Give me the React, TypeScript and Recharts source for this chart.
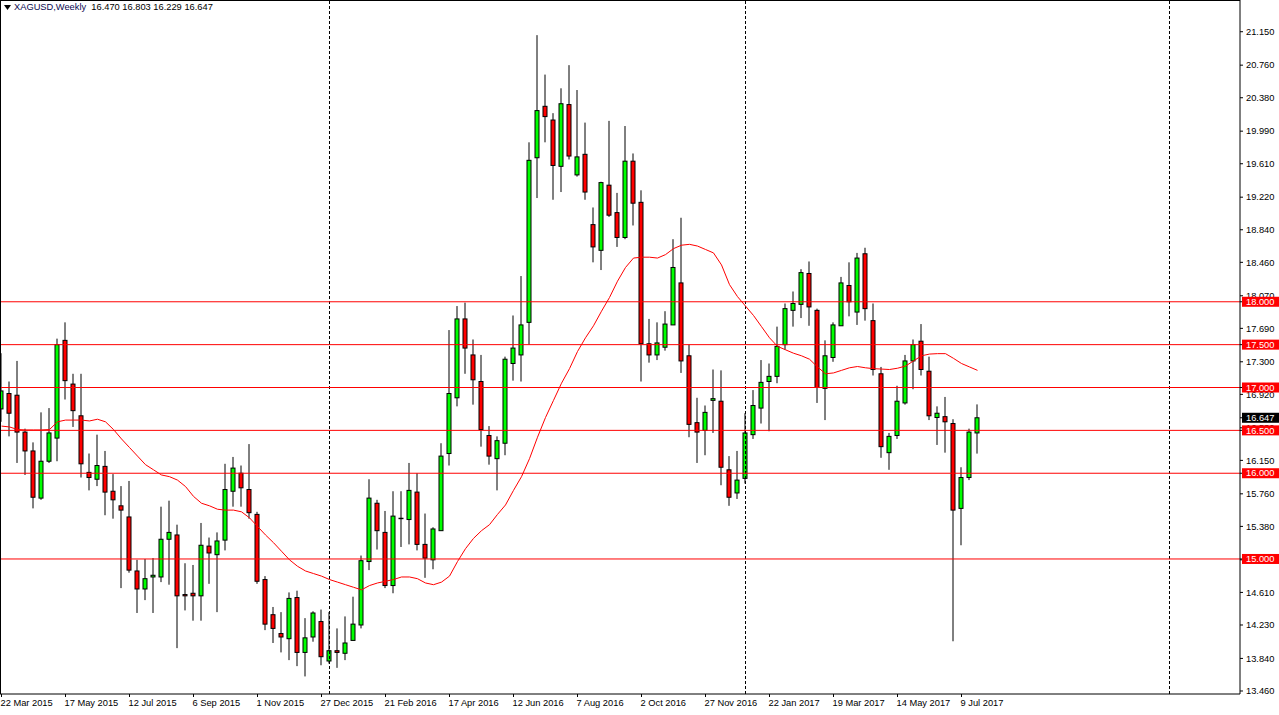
import React from 'react';
import { ComposedChart, Bar, Line, XAxis, YAxis, ReferenceLine } from 'recharts';

// weekly XAGUSD candles, first bar = week of 22 Mar 2015
const opens = [16.75, 16.93, 16.91, 16.48, 16.26, 15.71, 16.14, 16.41, 17.55, 17.04, 16.67, 16.01, 15.93, 16.08, 15.79, 15.62, 15.49, 14.86, 14.65, 14.79, 14.79, 15.23,
  15.28, 14.585, 14.6, 14.57, 15.15, 15.05, 15.22, 15.79, 16.0, 15.81, 15.52, 14.76, 14.35, 14.13, 14.07, 14.55, 13.91, 14.09, 14.27, 13.81,
  13.93, 13.9, 14.05, 14.23, 14.97, 15.65, 15.31, 14.69, 15.47, 15.46, 15.78, 15.17, 14.99, 15.33, 16.23, 16.88, 17.8, 17.38, 17.07, 16.44, 16.17, 16.35,
  17.28, 17.38, 17.76, 19.68, 20.28, 20.12, 19.58, 20.3, 19.48, 19.72, 18.9, 18.6, 19.36, 19.04, 18.75, 19.64, 19.16, 17.51, 17.38, 17.47,
  17.73, 18.22, 17.37, 16.59, 16.5, 16.85, 16.84, 16.04, 15.77, 15.94, 16.45, 16.76, 17.07, 17.13, 17.5, 17.9, 17.97, 18.33, 17.9,
  16.99, 17.35, 17.72, 18.19, 17.88, 18.56, 17.78, 17.16, 16.24, 16.44, 16.82, 17.31, 17.54, 17.19, 16.65, 16.66, 16.58, 15.59, 15.95, 16.47];
const highs = [17.4, 17.07, 17.31, 16.52, 16.36, 16.71, 16.76, 17.57, 17.76, 17.16, 17.16, 16.23, 16.45, 16.26, 15.99, 15.85, 15.91, 14.99, 15.0, 15.01, 15.61, 15.68,
  15.4, 14.95, 14.93, 15.42, 15.25, 15.31, 16.11, 16.19, 16.09, 16.34, 15.55, 14.8, 14.44, 14.38, 14.61, 14.63, 14.31, 14.39, 14.41, 14.38,
  14.19, 14.33, 14.56, 15.04, 15.93, 15.69, 15.56, 15.79, 15.79, 16.12, 16.0, 15.53, 15.37, 16.35, 17.67, 17.95, 17.99, 17.56, 17.38, 16.55, 16.43, 17.36,
  17.84, 18.3, 19.86, 21.11, 20.65, 20.2, 20.49, 20.76, 20.47, 20.09, 19.1, 19.4, 20.11, 19.27, 20.05, 19.73, 19.3, 17.8, 17.76, 17.89,
  18.73, 18.98, 17.5, 16.88, 16.79, 17.21, 17.2, 16.2, 16.26, 16.7, 16.97, 17.32, 17.28, 17.71, 17.98, 18.12, 18.38, 18.47, 17.92,
  17.55, 17.76, 18.29, 18.46, 18.57, 18.63, 17.98, 17.24, 16.47, 17.02, 17.38, 17.56, 17.74, 17.36, 16.78, 16.89, 16.63, 16.07, 16.52, 16.803];
const lows = [16.6, 16.43, 16.12, 15.98, 15.59, 15.69, 16.12, 16.14, 16.86, 16.54, 15.95, 15.8, 15.85, 15.51, 15.47, 14.66, 14.84, 14.37, 14.52, 14.37, 14.73, 14.7,
  13.96, 14.4, 14.28, 14.28, 14.71, 14.38, 15.1, 15.61, 15.61, 15.47, 14.71, 14.17, 14.02, 13.91, 13.82, 13.75, 13.63, 14.035, 13.76, 13.78,
  13.73, 13.82, 14.05, 14.19, 14.87, 15.11, 14.66, 14.6, 15.14, 15.17, 15.1, 14.78, 14.88, 15.33, 16.09, 16.78, 17.16, 16.8, 16.31, 16.1, 15.8, 16.21,
  17.08, 17.07, 17.5, 19.21, 19.86, 19.19, 19.28, 19.66, 19.46, 19.19, 18.46, 18.37, 18.99, 18.64, 18.73, 18.89, 17.07, 17.29, 17.32, 17.43,
  17.73, 17.17, 16.42, 16.12, 16.21, 16.47, 15.86, 15.62, 15.7, 15.88, 16.4, 16.58, 16.49, 17.05, 17.44, 17.71, 17.81, 17.72, 16.82,
  16.62, 17.3, 17.72, 17.83, 17.73, 17.78, 17.14, 16.18, 16.04, 16.4, 16.8, 16.98, 17.14, 16.62, 16.33, 16.24, 14.04, 15.16, 15.92, 16.229];
const closes = [16.96, 16.7, 16.48, 16.26, 15.72, 16.14, 16.47, 17.5, 17.08, 16.73, 16.11, 15.95, 16.09, 15.78, 15.69, 15.57, 14.87, 14.65, 14.77, 14.81, 15.23, 15.31,
  14.57, 14.57, 14.57, 15.16, 15.07, 15.21, 15.81, 16.06, 15.83, 15.54, 14.74, 14.24, 14.19, 14.09, 14.54, 13.91, 14.08, 14.37, 13.86, 13.93,
  13.91, 14.02, 14.24, 14.98, 15.71, 15.33, 14.69, 15.5, 15.475, 15.8, 15.17, 15.01, 15.35, 16.2, 16.93, 17.8, 17.46, 17.09, 16.51, 16.2, 16.38, 17.33,
  17.46, 17.73, 19.65, 20.23, 20.16, 19.59, 20.31, 19.7, 19.69, 19.28, 18.64, 19.39, 19.01, 18.75, 19.64, 19.15, 17.51, 17.38, 17.52, 17.74,
  18.4, 17.31, 16.57, 16.48, 16.71, 16.87, 16.07, 15.72, 15.92, 16.47, 16.79, 17.06, 17.13, 17.48, 17.92, 17.98, 18.34, 17.94, 17.0,
  17.37, 17.73, 18.22, 18.0, 18.51, 17.92, 17.21, 16.31, 16.43, 16.84, 17.31, 17.5, 17.21, 16.67, 16.7, 16.6, 15.57, 15.95, 16.48, 16.647];
// red moving average
const movingAvg = [16.55, 16.54, 16.51, 16.505, 16.505, 16.505, 16.51, 16.6, 16.62, 16.62, 16.62, 16.61, 16.63, 16.6, 16.51, 16.4, 16.3, 16.2, 16.1, 16.04, 15.98, 15.96,
  15.92, 15.845, 15.73, 15.65, 15.62, 15.58, 15.57, 15.57, 15.55, 15.48, 15.38, 15.28, 15.19, 15.09, 14.99, 14.915, 14.86, 14.83, 14.8, 14.76,
  14.73, 14.7, 14.67, 14.64, 14.69, 14.72, 14.74, 14.76, 14.79, 14.79, 14.77, 14.72, 14.7, 14.73, 14.8, 14.97, 15.12, 15.24, 15.33, 15.4, 15.52, 15.63,
  15.8, 15.96, 16.17, 16.42, 16.65, 16.85, 17.05, 17.22, 17.42, 17.58, 17.72, 17.89, 18.05, 18.24, 18.4, 18.51, 18.52, 18.52, 18.51, 18.55,
  18.62, 18.66, 18.67, 18.65, 18.61, 18.57, 18.43, 18.2, 18.06, 17.95, 17.84, 17.71, 17.58, 17.48, 17.44, 17.4, 17.37, 17.33, 17.24,
  17.16, 17.17, 17.2, 17.23, 17.245, 17.23, 17.22, 17.215, 17.21, 17.225, 17.25, 17.31, 17.37, 17.39, 17.395, 17.395, 17.34, 17.28, 17.24, 17.2];

const dateLabels = ['22 Mar 2015', '17 May 2015', '12 Jul 2015', '6 Sep 2015', '1 Nov 2015', '27 Dec 2015', '21 Feb 2016', '17 Apr 2016',
  '12 Jun 2016', '7 Aug 2016', '2 Oct 2016', '27 Nov 2016', '22 Jan 2017', '19 Mar 2017', '14 May 2017', '9 Jul 2017'];
const dateTicks = dateLabels.map((_, i) => i * 8);
const priceTicks = [21.15, 20.76, 20.38, 19.99, 19.61, 19.22, 18.84, 18.46, 18.07, 17.69, 17.3, 16.92, 16.53, 16.15, 15.76, 15.38, 14.99, 14.61, 14.23, 13.84, 13.46];
const levels = [18, 17.5, 17, 16.5, 16, 15];
const yearStarts = [41, 93, 146];
const lastPrice = 16.647;
const header = { symbol: 'XAGUSD,Weekly', values: '16.470 16.803 16.229 16.647' };

const FONT = "'Liberation Sans', Arial, sans-serif";

const data = opens.map((o, i) => ({
  i,
  o,
  h: highs[i],
  l: lows[i],
  c: closes[i],
  range: [lows[i], highs[i]],
  ma: movingAvg[i],
}));

const Candle = (props: any) => {
  const { x, y, width, height, payload } = props;
  if (!payload) return null;
  const { o, h, l, c } = payload;
  const cx = x + width / 2;
  const k = height / (h - l);
  const yAt = (v: number) => y + (h - v) * k;
  const top = yAt(Math.max(o, c));
  const bot = yAt(Math.min(o, c));
  return (
    <g>
      <line x1={cx} x2={cx} y1={y} y2={y + height} stroke="#000" strokeWidth={1} />
      <rect x={cx - 2} y={top} width={4} height={Math.max(bot - top, 0)} fill={c >= o ? '#00ff00' : '#ff0000'} stroke="#000" strokeWidth={1} />
    </g>
  );
};

const DateTick = (props: any) => {
  const { x, payload } = props;
  const label = dateLabels[Math.round(payload.value / 8)];
  return (
    <text x={x - 1} y={706} fontSize={9.3} fontFamily={FONT} fill="#000" textAnchor="start">
      {label}
    </text>
  );
};

const PriceTick = (props: any) => {
  const { x, y, payload } = props;
  const v = payload.value;
  const isLevel = levels.includes(v);
  const isLast = v === lastPrice;
  if (isLevel || isLast) {
    return (
      <g>
        <rect x={1242} y={y - 5} width={37} height={10} fill={isLast ? '#000' : '#ff0000'} />
        <text x={x} y={y} dy="0.35em" fontSize={9.3} fontFamily={FONT} fill="#fff">
          {v.toFixed(3)}
        </text>
      </g>
    );
  }
  return (
    <text x={x} y={y} dy="0.35em" fontSize={9.3} fontFamily={FONT} fill="#000">
      {v.toFixed(3)}
    </text>
  );
};

export default function App() {
  return (
    <div style={{ position: 'relative', width: 1279, height: 715, background: '#fff' }}>
      <style>{`body{margin:0;}`}</style>
      <ComposedChart width={1279} height={715} data={data} margin={{ top: 0, right: 0, bottom: 0, left: 0 }}>
        <XAxis
          dataKey="i"
          type="number"
          domain={[-0.1875, 154.8125]}
          allowDataOverflow
          ticks={dateTicks}
          interval={0}
          height={21}
          tickSize={3}
          axisLine={{ stroke: '#000' }}
          tickLine={{ stroke: '#000' }}
          tick={<DateTick />}
        />
        <YAxis
          orientation="right"
          type="number"
          domain={[13.425, 21.52]}
          allowDataOverflow
          ticks={[...priceTicks, ...levels, lastPrice]}
          interval={0}
          width={39}
          tickSize={3}
          tickMargin={3}
          axisLine={{ stroke: '#000' }}
          tickLine={{ stroke: '#000' }}
          tick={<PriceTick />}
        />
        {yearStarts.map((w) => (
          <ReferenceLine key={'sep' + w} x={w} stroke="#000" strokeDasharray="3 2" />
        ))}
        <Bar dataKey="range" barSize={5} shape={<Candle />} isAnimationActive={false} />
        <Line dataKey="ma" type="linear" stroke="#ff0000" strokeWidth={1} dot={false} activeDot={false} isAnimationActive={false} />
        {levels.map((lv) => (
          <ReferenceLine key={'lv' + lv} y={lv} stroke="#ff0000" strokeWidth={1} />
        ))}
      </ComposedChart>
      <div style={{ position: 'absolute', left: 0, top: 0, width: 1240, height: 694, borderTop: '1px solid #000', borderLeft: '1px solid #000', boxSizing: 'border-box', pointerEvents: 'none' }} />
      <div style={{ position: 'absolute', left: 4, top: 1, fontFamily: FONT, fontSize: 9.3, lineHeight: '12px', color: '#000', whiteSpace: 'pre', display: 'flex', alignItems: 'center' }}>
        <svg width={7} height={5} style={{ marginRight: 3 }}>
          <polygon points="0,0 7,0 3.5,5" fill="#000" />
        </svg>
        <span style={{ color: '#0a0a50' }}>{header.symbol}</span>
        <span>{'  ' + header.values}</span>
      </div>
    </div>
  );
}
